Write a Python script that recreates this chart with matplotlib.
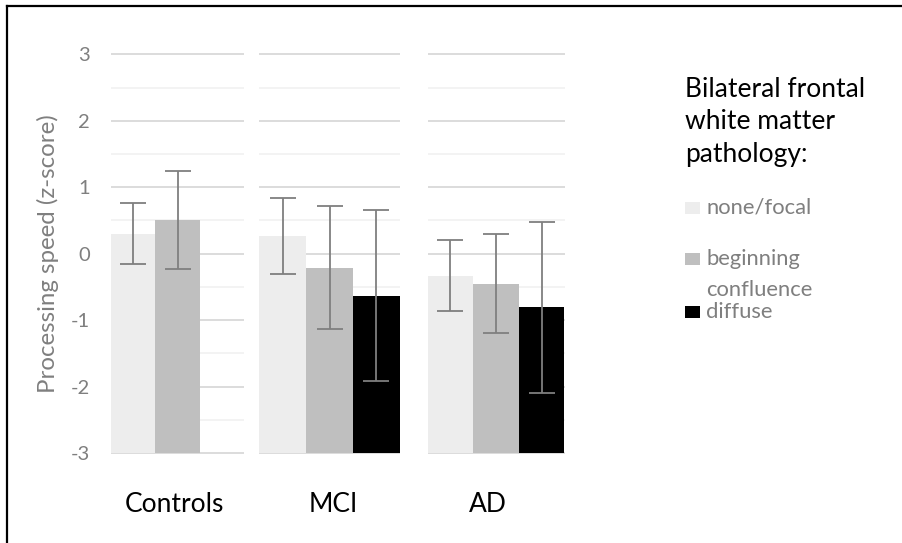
import matplotlib.pyplot as plt
from matplotlib.patches import Rectangle
from matplotlib.lines import Line2D

plt.rcParams['font.family'] = ['Lato', 'DejaVu Sans']

# ─── Data ────────────────────────────────────────────────────────────────────
groups = ["Controls", "MCI", "AD"]
severity = ["none/focal", "beginning\nconfluence", "diffuse"]
sev_colors = ["#ededed", "#bfbfbf", "#000000"]

controls_mean = [0.30, 0.51]
controls_err = [0.46, 0.74]
mci_mean = [0.27, -0.21, -0.63]
mci_err = [0.57, 0.92, 1.28]
ad_mean = [-0.33, -0.45, -0.81]
ad_err = [0.53, 0.75, 1.29]

means = [controls_mean, mci_mean, ad_mean]
errs = [controls_err, mci_err, ad_err]

yticks = [-3, -2, -1, 0, 1, 2, 3]
yminor = [-2.5, -1.5, -0.5, 0.5, 1.5, 2.5]
legend_title = ["Bilateral frontal", "white matter", "pathology:"]

# ─── Layout (pixels) ─────────────────────────────────────────────────────────
W, H = 902, 543
panel_x = [(111, 244), (259, 400), (427.5, 564.5)]
label_pos = [0.92, 1.09, 0.83]   # Excel centres the group labels a bit unevenly
y_top, y_bot = 52.3, 455.0
GRAY = "#7f7f7f"

fig = plt.figure(figsize=(W / 100, H / 100), dpi=100)

for i, (x0, x1) in enumerate(panel_x):
    ax = fig.add_axes([x0 / W, (H - y_bot) / H, (x1 - x0) / W, (y_bot - y_top) / H])
    vals = means[i]
    xs = list(range(len(vals)))
    heights = [v + 3 for v in vals]
    ax.bar(xs, heights, bottom=-3, width=1.0, color=sev_colors[:len(vals)],
           linewidth=0, zorder=2)
    ax.errorbar(xs, vals, yerr=errs[i], fmt="none", ecolor=GRAY, elinewidth=1.3,
                capsize=9.5, capthick=1.3, zorder=3)
    ax.set_xlim(-0.5, 2.5)
    ax.set_ylim(-3.03, 3.03)
    ax.set_yticks(yticks)
    ax.set_yticks(yminor, minor=True)
    ax.grid(True, which="major", axis="y", color="#d9d9d9", linewidth=1.3, zorder=0)
    ax.grid(True, which="minor", axis="y", color="#f2f2f2", linewidth=1.3, zorder=0)
    ax.set_axisbelow(True)
    for s in ax.spines.values():
        s.set_visible(False)
    ax.set_xticks([label_pos[i]])
    ax.set_xticklabels([groups[i]], fontsize=19, color="black")
    ax.tick_params(axis="x", length=0, pad=27)
    ax.tick_params(axis="y", which="both", length=0)
    if i == 0:
        ax.set_yticklabels([str(t) for t in yticks], fontsize=14.5, color=GRAY)
        ax.tick_params(axis="y", pad=15)
    else:
        ax.set_yticklabels([])

fig.text(48 / W, 1 - 253.5 / H, "Processing speed (z-score)", rotation=90,
         ha="center", va="center", fontsize=17.3, color=GRAY)

# ─── Legend (manual, Excel-style) ────────────────────────────────────────────
for k, line in enumerate(legend_title):
    fig.text(685 / W, 1 - (96.7 + 32.5 * k) / H, line, ha="left", va="baseline",
             fontsize=19, color="black")

entry_base = [214, 265, 318]
for k, (lab, col) in enumerate(zip(severity, sev_colors)):
    yb = entry_base[k]
    fig.patches.append(Rectangle((685 / W, 1 - yb / H), 15 / W, 12.5 / H,
                                 transform=fig.transFigure, facecolor=col,
                                 edgecolor="none", figure=fig))
    lines = lab.split("\n")
    for j, ln in enumerate(lines):
        fig.text(706 / W, 1 - (yb + 30.7 * j) / H, ln, ha="left", va="baseline",
                 fontsize=15.8, color=GRAY)

# ─── Frame ───────────────────────────────────────────────────────────────────
fig.add_artist(Line2D([7 / W, 7 / W], [0, 1 - 6 / H], color="black", linewidth=1.6,
                      transform=fig.transFigure))
fig.add_artist(Line2D([7 / W, 1], [1 - 6 / H, 1 - 6 / H], color="black", linewidth=1.6,
                      transform=fig.transFigure))

fig.savefig("out.png", dpi=100)
